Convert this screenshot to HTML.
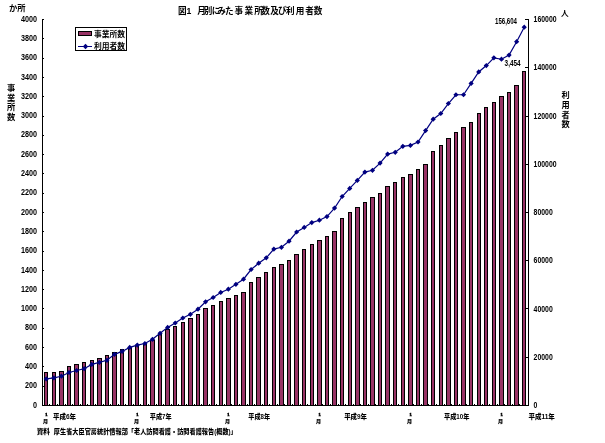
<!DOCTYPE html><html><head><meta charset="utf-8"><style>
html,body{margin:0;padding:0;background:#fff;width:605px;height:443px;overflow:hidden}
svg{display:block}
text{filter:grayscale(1)}
.n{font-family:"Liberation Sans",Arial,sans-serif;font-size:8.2px;fill:#000;font-weight:700}
.j{font-family:"Liberation Sans","Noto Sans CJK JP",sans-serif;fill:#000;font-weight:700}
</style></head><body>
<svg width="605" height="443" viewBox="0 0 605 443">
<g fill="#993366" stroke="#000" stroke-width="1" shape-rendering="crispEdges">
<rect x="44.5" y="372.5" width="3" height="33.0"/>
<rect x="52.5" y="372.5" width="3" height="33.0"/>
<rect x="59.5" y="371.5" width="4" height="34.0"/>
<rect x="67.5" y="366.5" width="3" height="39.0"/>
<rect x="74.5" y="364.5" width="4" height="41.0"/>
<rect x="82.5" y="362.5" width="3" height="43.0"/>
<rect x="90.5" y="360.5" width="3" height="45.0"/>
<rect x="97.5" y="358.5" width="4" height="47.0"/>
<rect x="105.5" y="355.5" width="3" height="50.0"/>
<rect x="112.5" y="352.5" width="4" height="53.0"/>
<rect x="120.5" y="349.5" width="3" height="56.0"/>
<rect x="128.5" y="347.5" width="3" height="58.0"/>
<rect x="135.5" y="345.5" width="3" height="60.0"/>
<rect x="143.5" y="344.5" width="3" height="61.0"/>
<rect x="150.5" y="340.5" width="4" height="65.0"/>
<rect x="158.5" y="333.5" width="3" height="72.0"/>
<rect x="165.5" y="329.5" width="4" height="76.0"/>
<rect x="173.5" y="326.5" width="3" height="79.0"/>
<rect x="181.5" y="322.5" width="3" height="83.0"/>
<rect x="188.5" y="318.5" width="4" height="87.0"/>
<rect x="196.5" y="314.5" width="3" height="91.0"/>
<rect x="203.5" y="308.5" width="4" height="97.0"/>
<rect x="211.5" y="305.5" width="3" height="100.0"/>
<rect x="219.5" y="301.5" width="3" height="104.0"/>
<rect x="226.5" y="298.5" width="4" height="107.0"/>
<rect x="234.5" y="295.5" width="3" height="110.0"/>
<rect x="241.5" y="292.5" width="4" height="113.0"/>
<rect x="249.5" y="282.5" width="3" height="123.0"/>
<rect x="256.5" y="277.5" width="4" height="128.0"/>
<rect x="264.5" y="272.5" width="3" height="133.0"/>
<rect x="272.5" y="267.5" width="3" height="138.0"/>
<rect x="279.5" y="264.5" width="4" height="141.0"/>
<rect x="287.5" y="260.5" width="3" height="145.0"/>
<rect x="294.5" y="254.5" width="4" height="151.0"/>
<rect x="302.5" y="249.5" width="3" height="156.0"/>
<rect x="310.5" y="244.5" width="3" height="161.0"/>
<rect x="317.5" y="240.5" width="4" height="165.0"/>
<rect x="325.5" y="236.5" width="3" height="169.0"/>
<rect x="332.5" y="231.5" width="4" height="174.0"/>
<rect x="340.5" y="218.5" width="3" height="187.0"/>
<rect x="348.5" y="212.5" width="3" height="193.0"/>
<rect x="355.5" y="207.5" width="4" height="198.0"/>
<rect x="363.5" y="202.5" width="3" height="203.0"/>
<rect x="370.5" y="197.5" width="4" height="208.0"/>
<rect x="378.5" y="193.5" width="3" height="212.0"/>
<rect x="385.5" y="186.5" width="4" height="219.0"/>
<rect x="393.5" y="182.5" width="3" height="223.0"/>
<rect x="401.5" y="177.5" width="3" height="228.0"/>
<rect x="408.5" y="174.5" width="4" height="231.0"/>
<rect x="416.5" y="169.5" width="3" height="236.0"/>
<rect x="423.5" y="164.5" width="4" height="241.0"/>
<rect x="431.5" y="151.5" width="3" height="254.0"/>
<rect x="439.5" y="145.5" width="3" height="260.0"/>
<rect x="446.5" y="138.5" width="4" height="267.0"/>
<rect x="454.5" y="132.5" width="3" height="273.0"/>
<rect x="461.5" y="127.5" width="4" height="278.0"/>
<rect x="469.5" y="122.5" width="3" height="283.0"/>
<rect x="477.5" y="113.5" width="3" height="292.0"/>
<rect x="484.5" y="107.5" width="3" height="298.0"/>
<rect x="492.5" y="102.5" width="3" height="303.0"/>
<rect x="499.5" y="96.5" width="4" height="309.0"/>
<rect x="507.5" y="92.5" width="3" height="313.0"/>
<rect x="514.5" y="85.5" width="4" height="320.0"/>
<rect x="522.5" y="71.5" width="3" height="334.0"/>
</g>
<g stroke="#000" stroke-width="1" shape-rendering="crispEdges" fill="none">
<path d="M42.5 19V406M528.5 19V406M42 405.5H529"/>
<path d="M43 405.5h1.2M43 386.5h1.2M43 366.5h1.2M43 347.5h1.2M43 328.5h1.2M43 308.5h1.2M43 289.5h1.2M43 270.5h1.2M43 251.5h1.2M43 231.5h1.2M43 212.5h1.2M43 193.5h1.2M43 173.5h1.2M43 154.5h1.2M43 135.5h1.2M43 116.5h1.2M43 96.5h1.2M43 77.5h1.2M43 58.5h1.2M43 38.5h1.2M43 19.5h1.2M528 405.5h-2.6M528 357.5h-2.6M528 308.5h-2.6M528 260.5h-2.6M528 212.5h-2.6M528 164.5h-2.6M528 116.5h-2.6M528 67.5h-2.6M528 19.5h-2.6M49.5 405v-1.5M57.5 405v-1.5M65.5 405v-1.5M72.5 405v-1.5M80.5 405v-1.5M87.5 405v-1.5M95.5 405v-1.5M103.5 405v-1.5M110.5 405v-1.5M118.5 405v-1.5M125.5 405v-1.5M133.5 405v-1.5M140.5 405v-1.5M148.5 405v-1.5M156.5 405v-1.5M163.5 405v-1.5M171.5 405v-1.5M178.5 405v-1.5M186.5 405v-1.5M194.5 405v-1.5M201.5 405v-1.5M209.5 405v-1.5M216.5 405v-1.5M224.5 405v-1.5M231.5 405v-1.5M239.5 405v-1.5M247.5 405v-1.5M254.5 405v-1.5M262.5 405v-1.5M269.5 405v-1.5M277.5 405v-1.5M284.5 405v-1.5M292.5 405v-1.5M300.5 405v-1.5M307.5 405v-1.5M315.5 405v-1.5M322.5 405v-1.5M330.5 405v-1.5M338.5 405v-1.5M345.5 405v-1.5M353.5 405v-1.5M360.5 405v-1.5M368.5 405v-1.5M375.5 405v-1.5M383.5 405v-1.5M391.5 405v-1.5M398.5 405v-1.5M406.5 405v-1.5M413.5 405v-1.5M421.5 405v-1.5M428.5 405v-1.5M436.5 405v-1.5M444.5 405v-1.5M451.5 405v-1.5M459.5 405v-1.5M466.5 405v-1.5M474.5 405v-1.5M482.5 405v-1.5M489.5 405v-1.5M497.5 405v-1.5M504.5 405v-1.5M512.5 405v-1.5M519.5 405v-1.5"/>
</g>
<polyline points="46.25,378.92 53.84,377.92 61.42,376.22 69.01,372.52 76.60,370.52 84.19,368.72 91.77,364.42 99.36,362.42 106.95,360.32 114.53,354.36 122.12,351.42 129.71,347.42 137.29,345.12 144.88,343.52 152.47,339.32 160.06,333.32 167.64,327.39 175.23,323.02 182.82,318.02 190.40,314.31 197.99,309.22 205.58,301.82 213.16,297.52 220.75,292.42 228.34,289.22 235.92,284.32 243.51,279.22 251.10,269.51 258.69,263.22 266.27,257.86 273.86,249.12 281.45,247.32 289.03,241.22 296.62,232.01 304.21,227.41 311.80,222.61 319.38,220.21 326.97,216.61 334.56,208.10 342.14,196.52 349.73,188.41 357.32,180.41 364.90,172.11 372.49,170.31 380.08,163.11 387.66,154.10 395.25,152.30 402.84,146.30 410.43,145.40 418.01,142.02 425.60,130.62 433.19,119.22 440.77,113.52 448.36,103.52 455.95,94.77 463.53,94.77 471.12,83.43 478.71,71.97 486.30,65.58 493.88,57.82 501.47,59.22 509.06,55.12 516.64,41.72 524.23,27.21" fill="none" stroke="#000080" stroke-width="1.2"/>
<path d="M46.25 376.32l2.6 2.6l-2.6 2.6l-2.6 -2.6zM53.84 375.32l2.6 2.6l-2.6 2.6l-2.6 -2.6zM61.42 373.62l2.6 2.6l-2.6 2.6l-2.6 -2.6zM69.01 369.92l2.6 2.6l-2.6 2.6l-2.6 -2.6zM76.60 367.92l2.6 2.6l-2.6 2.6l-2.6 -2.6zM84.19 366.12l2.6 2.6l-2.6 2.6l-2.6 -2.6zM91.77 361.82l2.6 2.6l-2.6 2.6l-2.6 -2.6zM99.36 359.82l2.6 2.6l-2.6 2.6l-2.6 -2.6zM106.95 357.72l2.6 2.6l-2.6 2.6l-2.6 -2.6zM114.53 351.75l2.6 2.6l-2.6 2.6l-2.6 -2.6zM122.12 348.82l2.6 2.6l-2.6 2.6l-2.6 -2.6zM129.71 344.82l2.6 2.6l-2.6 2.6l-2.6 -2.6zM137.29 342.52l2.6 2.6l-2.6 2.6l-2.6 -2.6zM144.88 340.92l2.6 2.6l-2.6 2.6l-2.6 -2.6zM152.47 336.72l2.6 2.6l-2.6 2.6l-2.6 -2.6zM160.06 330.72l2.6 2.6l-2.6 2.6l-2.6 -2.6zM167.64 324.79l2.6 2.6l-2.6 2.6l-2.6 -2.6zM175.23 320.42l2.6 2.6l-2.6 2.6l-2.6 -2.6zM182.82 315.42l2.6 2.6l-2.6 2.6l-2.6 -2.6zM190.40 311.71l2.6 2.6l-2.6 2.6l-2.6 -2.6zM197.99 306.62l2.6 2.6l-2.6 2.6l-2.6 -2.6zM205.58 299.22l2.6 2.6l-2.6 2.6l-2.6 -2.6zM213.16 294.92l2.6 2.6l-2.6 2.6l-2.6 -2.6zM220.75 289.82l2.6 2.6l-2.6 2.6l-2.6 -2.6zM228.34 286.62l2.6 2.6l-2.6 2.6l-2.6 -2.6zM235.92 281.72l2.6 2.6l-2.6 2.6l-2.6 -2.6zM243.51 276.62l2.6 2.6l-2.6 2.6l-2.6 -2.6zM251.10 266.91l2.6 2.6l-2.6 2.6l-2.6 -2.6zM258.69 260.62l2.6 2.6l-2.6 2.6l-2.6 -2.6zM266.27 255.26l2.6 2.6l-2.6 2.6l-2.6 -2.6zM273.86 246.52l2.6 2.6l-2.6 2.6l-2.6 -2.6zM281.45 244.72l2.6 2.6l-2.6 2.6l-2.6 -2.6zM289.03 238.62l2.6 2.6l-2.6 2.6l-2.6 -2.6zM296.62 229.41l2.6 2.6l-2.6 2.6l-2.6 -2.6zM304.21 224.81l2.6 2.6l-2.6 2.6l-2.6 -2.6zM311.80 220.01l2.6 2.6l-2.6 2.6l-2.6 -2.6zM319.38 217.61l2.6 2.6l-2.6 2.6l-2.6 -2.6zM326.97 214.01l2.6 2.6l-2.6 2.6l-2.6 -2.6zM334.56 205.50l2.6 2.6l-2.6 2.6l-2.6 -2.6zM342.14 193.92l2.6 2.6l-2.6 2.6l-2.6 -2.6zM349.73 185.81l2.6 2.6l-2.6 2.6l-2.6 -2.6zM357.32 177.81l2.6 2.6l-2.6 2.6l-2.6 -2.6zM364.90 169.51l2.6 2.6l-2.6 2.6l-2.6 -2.6zM372.49 167.71l2.6 2.6l-2.6 2.6l-2.6 -2.6zM380.08 160.51l2.6 2.6l-2.6 2.6l-2.6 -2.6zM387.66 151.50l2.6 2.6l-2.6 2.6l-2.6 -2.6zM395.25 149.70l2.6 2.6l-2.6 2.6l-2.6 -2.6zM402.84 143.70l2.6 2.6l-2.6 2.6l-2.6 -2.6zM410.43 142.80l2.6 2.6l-2.6 2.6l-2.6 -2.6zM418.01 139.42l2.6 2.6l-2.6 2.6l-2.6 -2.6zM425.60 128.02l2.6 2.6l-2.6 2.6l-2.6 -2.6zM433.19 116.62l2.6 2.6l-2.6 2.6l-2.6 -2.6zM440.77 110.92l2.6 2.6l-2.6 2.6l-2.6 -2.6zM448.36 100.92l2.6 2.6l-2.6 2.6l-2.6 -2.6zM455.95 92.17l2.6 2.6l-2.6 2.6l-2.6 -2.6zM463.53 92.17l2.6 2.6l-2.6 2.6l-2.6 -2.6zM471.12 80.83l2.6 2.6l-2.6 2.6l-2.6 -2.6zM478.71 69.37l2.6 2.6l-2.6 2.6l-2.6 -2.6zM486.30 62.98l2.6 2.6l-2.6 2.6l-2.6 -2.6zM493.88 55.22l2.6 2.6l-2.6 2.6l-2.6 -2.6zM501.47 56.62l2.6 2.6l-2.6 2.6l-2.6 -2.6zM509.06 52.52l2.6 2.6l-2.6 2.6l-2.6 -2.6zM516.64 39.12l2.6 2.6l-2.6 2.6l-2.6 -2.6zM524.23 24.61l2.6 2.6l-2.6 2.6l-2.6 -2.6z" fill="#000080"/>
<g transform="translate(37 0) scale(0.88 1)">
<text class="n" x="0" y="407.7" text-anchor="end">0</text>
<text class="n" x="0" y="388.4" text-anchor="end">200</text>
<text class="n" x="0" y="369.1" text-anchor="end">400</text>
<text class="n" x="0" y="349.8" text-anchor="end">600</text>
<text class="n" x="0" y="330.5" text-anchor="end">800</text>
<text class="n" x="0" y="311.2" text-anchor="end">1000</text>
<text class="n" x="0" y="291.9" text-anchor="end">1200</text>
<text class="n" x="0" y="272.6" text-anchor="end">1400</text>
<text class="n" x="0" y="253.3" text-anchor="end">1600</text>
<text class="n" x="0" y="234.0" text-anchor="end">1800</text>
<text class="n" x="0" y="214.7" text-anchor="end">2000</text>
<text class="n" x="0" y="195.4" text-anchor="end">2200</text>
<text class="n" x="0" y="176.1" text-anchor="end">2400</text>
<text class="n" x="0" y="156.8" text-anchor="end">2600</text>
<text class="n" x="0" y="137.5" text-anchor="end">2800</text>
<text class="n" x="0" y="118.2" text-anchor="end">3000</text>
<text class="n" x="0" y="98.9" text-anchor="end">3200</text>
<text class="n" x="0" y="79.6" text-anchor="end">3400</text>
<text class="n" x="0" y="60.3" text-anchor="end">3600</text>
<text class="n" x="0" y="41.0" text-anchor="end">3800</text>
<text class="n" x="0" y="21.7" text-anchor="end">4000</text>
</g>
<g transform="translate(533.6 0) scale(0.84 1)">
<text class="n" x="0" y="408.1">0</text>
<text class="n" x="0" y="359.9">20000</text>
<text class="n" x="0" y="311.6">40000</text>
<text class="n" x="0" y="263.4">60000</text>
<text class="n" x="0" y="215.1">80000</text>
<text class="n" x="0" y="166.8">100000</text>
<text class="n" x="0" y="118.6">120000</text>
<text class="n" x="0" y="70.3">140000</text>
<text class="n" x="0" y="22.1">160000</text>
</g>
<text class="n" x="504.6" y="65.8" font-size="7.2" textLength="16" lengthAdjust="spacingAndGlyphs">3,454</text>
<text class="n" x="495" y="24.4" font-size="6.6" textLength="22" lengthAdjust="spacingAndGlyphs">156,604</text>
<text class="j" x="178.0 186.4 197.3 203.8 211.7 217.2 225.1 234.5 244.4 254.3 261.2 270.2 278.1 285.9 295.8 305.3 313.7" y="14" font-size="8.6">図1月別にみた事業所数及び利用者数</text>
<text class="j" x="9" y="10.6" font-size="8.3">か所</text>
<text class="j" x="561" y="15.6" font-size="7.6">人</text>
<text class="j" x="7" y="91.2" font-size="8.3">事</text>
<text class="j" x="7" y="100.8" font-size="8.3">業</text>
<text class="j" x="7" y="110.4" font-size="8.3">所</text>
<text class="j" x="7" y="120.0" font-size="8.3">数</text>
<text class="j" x="561.5" y="98.3" font-size="8.2">利</text>
<text class="j" x="561.5" y="108.0" font-size="8.2">用</text>
<text class="j" x="561.5" y="117.7" font-size="8.2">者</text>
<text class="j" x="561.5" y="127.4" font-size="8.2">数</text>
<rect x="75.5" y="27.5" width="51" height="23" fill="#fff" stroke="#000" shape-rendering="crispEdges"/>
<rect x="78.5" y="31.5" width="13" height="4" fill="#993366" stroke="#000" shape-rendering="crispEdges"/>
<path d="M78 46.5H92" stroke="#000080" stroke-width="1" shape-rendering="crispEdges"/><path d="M85.5 43.8l2.7 2.7l-2.7 2.7l-2.7 -2.7z" fill="#000080"/>
<text class="j" x="94" y="36.8" font-size="7.5" textLength="31" lengthAdjust="spacingAndGlyphs">事業所数</text>
<text class="j" x="94" y="48.8" font-size="7.5" textLength="31" lengthAdjust="spacingAndGlyphs">利用者数</text>
<text class="n" transform="translate(46.5 415.7) scale(0.5)" font-size="10.5" text-anchor="middle" stroke="#000" stroke-width="0.9">1</text>
<text class="j" transform="translate(45.4 423.4) scale(0.5)" font-size="10" text-anchor="middle" stroke="#000" stroke-width="0.5">月</text>
<text class="j" style="font-weight:900" x="52.9" y="418.7" font-size="6.4" textLength="23.1" lengthAdjust="spacingAndGlyphs">平成6年</text>
<text class="n" transform="translate(137.5 415.7) scale(0.5)" font-size="10.5" text-anchor="middle" stroke="#000" stroke-width="0.9">1</text>
<text class="j" transform="translate(136.4 423.4) scale(0.5)" font-size="10" text-anchor="middle" stroke="#000" stroke-width="0.5">月</text>
<text class="j" style="font-weight:900" x="149.8" y="418.7" font-size="6.4" textLength="21.8" lengthAdjust="spacingAndGlyphs">平成7年</text>
<text class="n" transform="translate(228.5 415.7) scale(0.5)" font-size="10.5" text-anchor="middle" stroke="#000" stroke-width="0.9">1</text>
<text class="j" transform="translate(227.4 423.4) scale(0.5)" font-size="10" text-anchor="middle" stroke="#000" stroke-width="0.5">月</text>
<text class="j" style="font-weight:900" x="248.3" y="418.7" font-size="6.4" textLength="21.8" lengthAdjust="spacingAndGlyphs">平成8年</text>
<text class="n" transform="translate(319.6 415.7) scale(0.5)" font-size="10.5" text-anchor="middle" stroke="#000" stroke-width="0.9">1</text>
<text class="j" transform="translate(318.5 423.4) scale(0.5)" font-size="10" text-anchor="middle" stroke="#000" stroke-width="0.5">月</text>
<text class="j" style="font-weight:900" x="344.2" y="418.7" font-size="6.4" textLength="22.8" lengthAdjust="spacingAndGlyphs">平成9年</text>
<text class="n" transform="translate(410.6 415.7) scale(0.5)" font-size="10.5" text-anchor="middle" stroke="#000" stroke-width="0.9">1</text>
<text class="j" transform="translate(409.5 423.4) scale(0.5)" font-size="10" text-anchor="middle" stroke="#000" stroke-width="0.5">月</text>
<text class="j" style="font-weight:900" x="444" y="418.7" font-size="6.4" textLength="25.4" lengthAdjust="spacingAndGlyphs">平成10年</text>
<text class="n" transform="translate(501.7 415.7) scale(0.5)" font-size="10.5" text-anchor="middle" stroke="#000" stroke-width="0.9">1</text>
<text class="j" transform="translate(500.6 423.4) scale(0.5)" font-size="10" text-anchor="middle" stroke="#000" stroke-width="0.5">月</text>
<text class="j" style="font-weight:900" x="528.4" y="418.7" font-size="6.4" textLength="26.4" lengthAdjust="spacingAndGlyphs">平成11年</text>
<text class="j" style="font-weight:900" x="36.7" y="433.6" font-size="6.8" textLength="13.2" lengthAdjust="spacingAndGlyphs">資料</text>
<text class="j" style="font-weight:900" x="53.8" y="433.6" font-size="6.8" textLength="183" lengthAdjust="spacingAndGlyphs">厚生省大臣官房統計情報部「老人訪問看護・訪問看護報告(概数)」</text>
</svg></body></html>
